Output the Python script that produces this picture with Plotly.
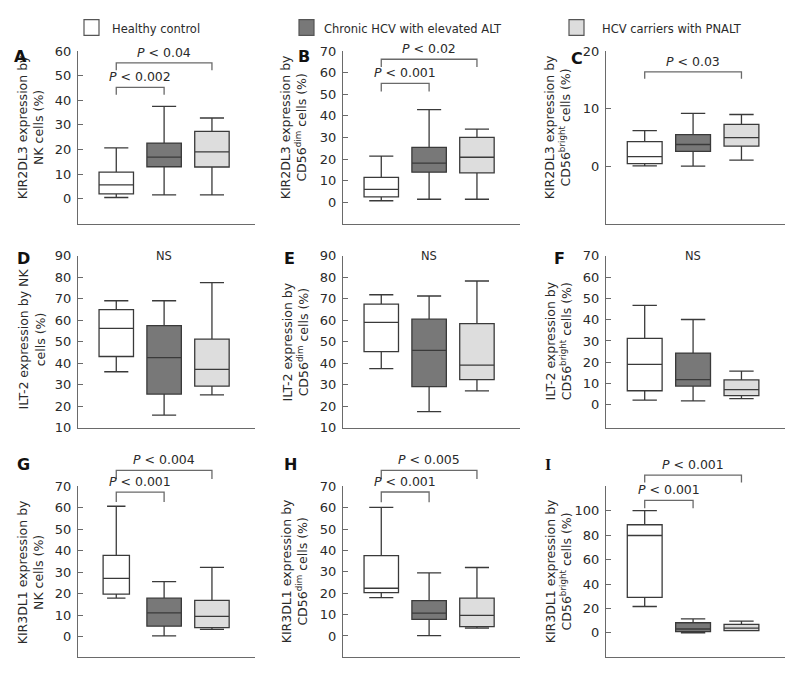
import plotly.graph_objects as go

# ---------------- data ----------------
groups = ["Healthy control", "Chronic HCV with elevated ALT", "HCV carriers with PNALT"]
group_x = [0, 1, 2]

panel_ids = ["A", "B", "C", "D", "E", "F", "G", "H", "I"]

# per-panel box statistics, one value per group (healthy, chronic HCV, PNALT)
A_low = [0.5, 1.6, 1.6];   A_q1 = [2.0, 13.0, 12.9];  A_med = [5.6, 16.9, 19.0];  A_q3 = [10.8, 22.6, 27.4];  A_up = [20.7, 37.5, 32.8]
B_low = [0.8, 1.5, 1.5];   B_q1 = [2.6, 14.0, 13.7];  B_med = [6.1, 18.2, 20.9];  B_q3 = [11.6, 25.5, 30.1];  B_up = [21.4, 42.9, 33.9]
C_low = [0.1, 0.05, 1.1];  C_q1 = [0.5, 2.6, 3.5];    C_med = [1.7, 3.8, 5.0];    C_q3 = [4.3, 5.5, 7.3];     C_up = [6.2, 9.2, 9.0]
D_low = [36.0, 15.8, 25.2]; D_q1 = [43.1, 25.6, 29.3]; D_med = [56.2, 42.6, 37.1]; D_q3 = [65.0, 57.5, 51.2]; D_up = [69.1, 69.1, 77.5]
E_low = [37.5, 17.4, 27.1]; E_q1 = [45.4, 29.1, 32.3]; E_med = [59.0, 46.0, 39.1]; E_q3 = [67.5, 60.5, 58.4]; E_up = [71.9, 71.3, 78.3]
F_low = [2.2, 1.8, 2.9];   F_q1 = [6.6, 8.8, 4.3];    F_med = [19.0, 11.8, 7.1];  F_q3 = [31.2, 24.3, 11.7];  F_up = [46.7, 40.1, 15.8]
G_low = [18.0, 0.5, 3.5];  G_q1 = [19.9, 5.0, 4.3];   G_med = [27.2, 11.2, 9.5];  G_q3 = [37.9, 18.0, 17.0];  G_up = [60.7, 25.7, 32.3]
H_low = [17.9, 0.2, 3.7];  H_q1 = [20.3, 7.8, 4.4];   H_med = [22.3, 10.7, 9.6];  H_q3 = [37.6, 16.5, 17.7];  H_up = [60.1, 29.5, 32.0]
I_low = [21.6, 0.0, 1.9];  I_q1 = [29.0, 1.1, 1.9];   I_med = [79.7, 3.2, 4.0];   I_q3 = [88.5, 8.3, 7.0];    I_up = [100.0, 11.5, 9.7]

y_titles = [
    "KIR2DL3 expression by<br>NK cells (%)",
    "KIR2DL3 expression by<br>CD56<sup>dim</sup> cells (%)",
    "KIR2DL3 expression by<br>CD56<sup>bright</sup> cells (%)",
    "ILT-2 expression by NK<br>cells (%)",
    "ILT-2 expression by<br>CD56<sup>dim</sup> cells (%)",
    "ILT-2 expression by<br>CD56<sup>bright</sup> cells (%)",
    "KIR3DL1 expression by<br>NK cells (%)",
    "KIR3DL1 expression by<br>CD56<sup>dim</sup> cells (%)",
    "KIR3DL1 expression by<br>CD56<sup>bright</sup> cells (%)",
]

y_ticks = [
    [0, 10, 20, 30, 40, 50, 60],
    [0, 10, 20, 30, 40, 50, 60, 70],
    [0, 10, 20],
    [10, 20, 30, 40, 50, 60, 70, 80, 90],
    [10, 20, 30, 40, 50, 60, 70, 80, 90],
    [0, 10, 20, 30, 40, 50, 60, 70],
    [0, 10, 20, 30, 40, 50, 60, 70],
    [0, 10, 20, 30, 40, 50, 60, 70],
    [0, 20, 40, 60, 80, 100],
]
y_ranges = [[-10.3, 60], [-10, 70], [-10, 20], [10, 90], [10, 90], [-10.7, 70],
            [-9.5, 70], [-10, 70], [-20, 120]]

# significance brackets: (left group, right group, bar level, tick end level, label)
brackets = {
    "A": [(0, 1, 45.2, 42.2, "0.002"), (0, 2, 55.2, 52.2, "0.04")],
    "B": [(0, 1, 55.0, 51.3, "0.001"), (0, 2, 66.2, 62.6, "0.02")],
    "C": [(0, 2, 16.4, 15.2, "0.03")],
    "G": [(0, 1, 67.3, 62.7, "0.001"), (0, 2, 77.4, 73.4, "0.004")],
    "H": [(0, 1, 67.3, 62.5, "0.001"), (0, 2, 77.4, 73.4, "0.005")],
    "I": [(0, 1, 108.5, 102.0, "0.001"), (0, 2, 129.0, 123.0, "0.001")],
}
ns_panels = {"D": 90, "E": 90, "F": 70}

stats = {
    "A": (A_low, A_q1, A_med, A_q3, A_up), "B": (B_low, B_q1, B_med, B_q3, B_up),
    "C": (C_low, C_q1, C_med, C_q3, C_up), "D": (D_low, D_q1, D_med, D_q3, D_up),
    "E": (E_low, E_q1, E_med, E_q3, E_up), "F": (F_low, F_q1, F_med, F_q3, F_up),
    "G": (G_low, G_q1, G_med, G_q3, G_up), "H": (H_low, H_q1, H_med, H_q3, H_up),
    "I": (I_low, I_q1, I_med, I_q3, I_up),
}

# ---------------- style / layout ----------------
W, H = 800, 682
FONT = "DejaVu Sans"
TXT = "#2a2a2a"
LINE = "#3a3a3a"
AXC = "#6a6a6a"
fills = ["#ffffff", "#787878", "#dddddd"]
x_range = [-0.8, 2.9]

col_px = [(78, 255), (343, 520), (606, 785)]
row_px = [(45, 222), (254.5, 430), (490, 665)]

def xdom(c):
    return [col_px[c][0] / W, col_px[c][1] / W]

def ydom(r):
    return [1 - row_px[r][1] / H, 1 - row_px[r][0] / H]

def to_paper(dom, rng, v):
    return dom[0] + (v - rng[0]) / (rng[1] - rng[0]) * (dom[1] - dom[0])

fig = go.Figure()
layout = dict(width=W, height=H, margin=dict(l=0, r=0, t=0, b=0),
              plot_bgcolor="white", paper_bgcolor="white", showlegend=False,
              font=dict(family=FONT, size=11, color=TXT))
shapes, annotations = [], []

ytitle_pos = [(30, 123), (293, 123), (557, 123),
              (32, 340), (295, 343), (558, 342),
              (30, 578), (294, 577), (558, 577)]
letter_pos = [(20, 51), (304, 51), (577, 53),
              (23, 257), (289, 257), (559, 257),
              (23, 468), (290, 468), (548, 468)]

for i, pid in enumerate(panel_ids):
    r, c = divmod(i, 3)
    n = "" if i == 0 else str(i + 1)
    xa, ya = "x" + n, "y" + n
    xd, yd = xdom(c), ydom(r)
    yr = y_ranges[i]
    layout["xaxis" + n] = dict(domain=xd, range=x_range, anchor=ya, showline=True,
                               linecolor=AXC, linewidth=1.2, showticklabels=False,
                               ticks="", showgrid=False, zeroline=False, fixedrange=True)
    layout["yaxis" + n] = dict(domain=yd, range=yr, anchor=xa, showline=True,
                               linecolor=AXC, linewidth=1.2, ticks="inside", ticklen=5,
                               tickcolor=AXC, tickwidth=1.2, tickvals=y_ticks[i],
                               tickfont=dict(family=FONT, size=13, color=TXT),
                               ticklabelstandoff=3,
                               showgrid=False, zeroline=False, fixedrange=True)
    low, q1, med, q3, up = stats[pid]
    for g in range(3):
        w = 0.55 if (pid == "G" and g == 0) else 0.72
        fig.add_trace(go.Box(
            x=[group_x[g]], lowerfence=[low[g]], q1=[q1[g]], median=[med[g]],
            q3=[q3[g]], upperfence=[up[g]], width=w, whiskerwidth=0.7,
            fillcolor=fills[g], line=dict(color=LINE, width=1.3),
            boxpoints=False, name=groups[g], xaxis=xa, yaxis=ya,
            hoverinfo="skip"))

    # y title
    tx, ty = ytitle_pos[i]
    annotations.append(dict(x=tx / W, y=1 - ty / H, xref="paper", yref="paper",
                            text=y_titles[i], textangle=-90, showarrow=False,
                            xanchor="center", yanchor="middle",
                            font=dict(family=FONT, size=12.5, color=TXT)))
    # panel letter
    lx, ly = letter_pos[i]
    annotations.append(dict(x=lx / W, y=1 - ly / H, xref="paper", yref="paper",
                            text="<b>%s</b>" % pid, showarrow=False,
                            xanchor="center", yanchor="middle",
                            font=dict(family=FONT if pid != "I" else "Liberation Serif",
                                      size=16, color="#111")))
    # brackets
    for (g0, g1, ybar, yend, lab) in brackets.get(pid, []):
        x0 = to_paper(xd, x_range, group_x[g0])
        x1 = to_paper(xd, x_range, group_x[g1])
        yb = to_paper(yd, yr, ybar)
        ye = to_paper(yd, yr, yend)
        shapes.append(dict(type="path", xref="paper", yref="paper",
                           path="M %f,%f L %f,%f L %f,%f L %f,%f" % (x0, ye, x0, yb, x1, yb, x1, ye),
                           line=dict(color=AXC, width=1.3)))
        annotations.append(dict(x=(x0 + x1) / 2, y=yb, xref="paper", yref="paper",
                                text="<i>P</i> < " + lab, showarrow=False,
                                xanchor="center", yanchor="bottom", yshift=1,
                                font=dict(family=FONT, size=12.5, color=TXT)))
    if pid in ns_panels:
        annotations.append(dict(x=to_paper(xd, x_range, group_x[1]),
                                y=to_paper(yd, yr, ns_panels[pid]), xref="paper", yref="paper",
                                text="NS", showarrow=False, xanchor="center", yanchor="middle",
                                font=dict(family=FONT, size=11.5, color=TXT)))

# legend (top)
leg_sq = [(84, 13), (299, 13), (569, 13)]
leg_tx = [110, 322, 600]
for g in range(3):
    sx, sy = leg_sq[g]
    shapes.append(dict(type="rect", xref="paper", yref="paper",
                       x0=sx / W, x1=(sx + 15) / W, y0=1 - (sy + 16) / H, y1=1 - sy / H,
                       fillcolor=fills[g], line=dict(color="#555", width=1.2)))
    annotations.append(dict(x=leg_tx[g] / W, y=1 - 22 / H, xref="paper", yref="paper",
                            text=groups[g], showarrow=False, xanchor="left", yanchor="middle",
                            font=dict(family=FONT, size=11.5, color=TXT)))

layout["shapes"] = shapes
layout["annotations"] = annotations
fig.update_layout(**layout)
fig.write_html("out.html", config={"displayModeBar": False},
               post_script="document.body.style.margin='0';document.body.style.overflow='hidden';")
